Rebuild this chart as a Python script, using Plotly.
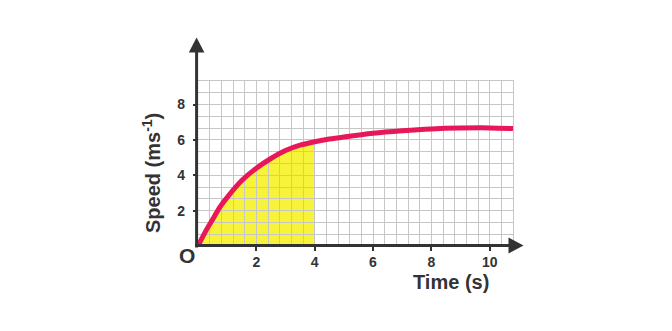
import plotly.graph_objects as go

# ---- data ----
time_s = [0, 0.25, 0.5, 0.75, 1, 1.5, 2, 2.5, 3, 3.5, 4, 4.5, 5, 6, 7, 8, 9, 10, 10.8]
speed = [0, 0.8, 1.5, 2.2, 2.75, 3.7, 4.4, 4.95, 5.4, 5.7, 5.9, 6.05, 6.17, 6.38, 6.52, 6.62, 6.67, 6.68, 6.64]
shade_end = 4
x_ticks = [2, 4, 6, 8, 10]
y_ticks = [2, 4, 6, 8]
x_max = 10.8
y_max = 28 / 3

W, H = 672, 331
L, R, T, B = 198, 159, 81, 85
PW, PH = W - L - R, H - T - B

def px(xp):
    return (xp - L) / PW

def py(yp):
    return (H - B - yp) / PH

DARK = "#333333"
GRID = "#c6c6c6"
RED = "#e8175a"
YELLOW = "#f7f23a"
FONT = "Liberation Sans"

fig = go.Figure()
fig.add_trace(go.Scatter(x=time_s, y=speed, mode="lines",
                         line=dict(color=RED, width=5, shape="spline", smoothing=0.8),
                         hoverinfo="skip", showlegend=False))

# yellow area under the curve (below gridlines), built from the data
pts = [(t, v) for t, v in zip(time_s, speed) if t <= shade_end]
path = "M 0,0 " + " ".join(f"L {t},{v}" for t, v in pts) + f" L {shade_end},0 Z"

shapes = [
    dict(type="path", path=path, xref="x", yref="y", layer="below",
         fillcolor=YELLOW, line=dict(width=0)),
    # y axis line + arrow
    dict(type="line", xref="paper", yref="paper", x0=px(196.6), x1=px(196.6),
         y0=py(247.5), y1=py(50), line=dict(color=DARK, width=3), layer="above"),
    dict(type="path", xref="paper", yref="paper", layer="above",
         path=f"M {px(196.6)},{py(37.5)} L {px(188.8)},{py(52.5)} L {px(204.4)},{py(52.5)} Z",
         fillcolor=DARK, line=dict(width=0)),
    # x axis line + arrow
    dict(type="line", xref="paper", yref="paper", x0=px(195.2), x1=px(511),
         y0=py(245.6), y1=py(245.6), line=dict(color=DARK, width=3), layer="above"),
    dict(type="path", xref="paper", yref="paper", layer="above",
         path=f"M {px(523.5)},{py(245.6)} L {px(508.5)},{py(237.6)} L {px(508.5)},{py(253.6)} Z",
         fillcolor=DARK, line=dict(width=0)),
]

annotations = [
    dict(text="O", xref="paper", yref="paper", x=px(186.5), y=py(255.5),
         xanchor="center", yanchor="middle", showarrow=False,
         font=dict(family=FONT, size=21, color=DARK, weight="bold")),
    dict(text="Speed (ms<sup>-1</sup>)", xref="paper", yref="paper", x=px(151), y=py(173),
         xanchor="center", yanchor="middle", showarrow=False, textangle=-90,
         font=dict(family=FONT, size=20, color=DARK, weight="bold")),
    dict(text="Time (s)", xref="paper", yref="paper", x=px(450.5), y=py(282),
         xanchor="center", yanchor="middle", showarrow=False,
         font=dict(family=FONT, size=20, color=DARK, weight="bold")),
]

tickfont = dict(family=FONT, size=14, color=DARK, weight="bold")

fig.update_layout(
    width=W, height=H,
    margin=dict(l=L, r=R, t=T, b=B, pad=0),
    paper_bgcolor="white", plot_bgcolor="white",
    shapes=shapes, annotations=annotations,
    xaxis=dict(range=[0, x_max], tickmode="array", tickvals=x_ticks,
               ticks="outside", ticklen=4, tickwidth=2, tickcolor=DARK,
               tickfont=tickfont, ticklabelstandoff=-1,
               showgrid=True, gridcolor=GRID, gridwidth=1.2, zeroline=False,
               showline=True, mirror=True, linecolor=GRID, linewidth=1.2,
               minor=dict(dtick=0.4, tick0=0, showgrid=True, gridcolor=GRID, gridwidth=1.2, ticks=""),
               fixedrange=True),
    yaxis=dict(range=[0, y_max], tickmode="array", tickvals=y_ticks,
               ticks="outside", ticklen=4, tickwidth=2, tickcolor=DARK,
               tickfont=tickfont, ticklabelstandoff=5,
               showgrid=True, gridcolor=GRID, gridwidth=1.2, zeroline=False,
               showline=True, mirror=True, linecolor=GRID, linewidth=1.2,
               minor=dict(dtick=2 / 3, tick0=0, showgrid=True, gridcolor=GRID, gridwidth=1.2, ticks=""),
               fixedrange=True),
)

fig.write_html("out.html")
